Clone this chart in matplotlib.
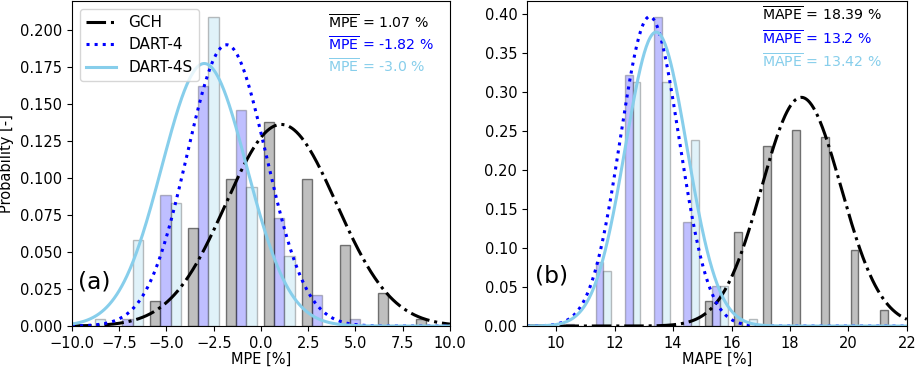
import numpy as np
import matplotlib
matplotlib.use("Agg")
import matplotlib.pyplot as plt

# ---------------- data ----------------
series_names = ["GCH", "DART-4", "DART-4S"]

# Panel (a): MPE histogram (density), bins of width ~2.01 starting at -10.08
mpe_bin_start = -10.08
mpe_bin_width = 2.01
mpe_gch = [0.0, 0.0, 0.0168, 0.0665, 0.0992, 0.138, 0.0992, 0.0549, 0.022, 0.005]
mpe_dart4 = [0.0, 0.005, 0.0887, 0.162, 0.146, 0.073, 0.0208, 0.005, 0.0, 0.0]
mpe_dart4s = [0.005, 0.058, 0.0833, 0.209, 0.094, 0.047, 0.0, 0.0, 0.0, 0.0]
mpe_means = [1.07, -1.82, -3.0]
mpe_stds = [2.93, 2.10, 2.25]

# Panel (b): MAPE histogram (density), bins of width 1.0 starting at 9.98
mape_bin_start = 9.98
mape_bin_width = 1.0
mape_gch = [0.0, 0.0, 0.0, 0.0, 0.0, 0.032, 0.120, 0.231, 0.252, 0.242, 0.098, 0.020]
mape_dart4 = [0.003, 0.082, 0.322, 0.396, 0.134, 0.051, 0.0, 0.0, 0.0, 0.0, 0.0, 0.0]
mape_dart4s = [0.0, 0.071, 0.3125, 0.3125, 0.239, 0.051, 0.0085, 0.0, 0.0, 0.0, 0.0, 0.0]
mape_means = [18.39, 13.2, 13.42]
mape_stds = [1.36, 1.005, 1.058]

# ---------------- style ----------------
plt.rcParams["font.family"] = ["DejaVu Sans"]
plt.rcParams["font.size"] = 10.5

bar_colors = ["gray", "blue", "skyblue"]
bar_alphas = [0.5, 0.25, 0.25]
line_colors = ["black", "blue", "skyblue"]
line_styles = ["-.", ":", "-"]
LW = 2.2


def normal_pdf(x, mu, sd):
    return np.exp(-0.5 * ((x - mu) / sd) ** 2) / (sd * np.sqrt(2 * np.pi))


def draw_panel(ax, start, width, heights_list, means, stds, xlim, label, tag,
               text_x, text_ys, tag_xy):
    nb = len(heights_list[0])
    edges = start + width * np.arange(nb)
    bw = width * 0.8 / 3
    for i, h in enumerate(heights_list):
        lefts = edges + width * 0.1 + i * bw
        ax.bar(lefts, h, width=bw, align="edge", color=bar_colors[i],
               alpha=bar_alphas[i], edgecolor="k", linewidth=1.0)
    x = np.linspace(xlim[0], xlim[1], 600)
    for i in range(3):
        ax.plot(x, normal_pdf(x, means[i], stds[i]), color=line_colors[i],
                linestyle=line_styles[i], linewidth=LW, label=series_names[i])
    ax.set_xlim(*xlim)
    ax.set_ylim(bottom=0)
    ax.set_xlabel(label, labelpad=1)
    for i in range(3):
        val = means[i]
        s = f"{val}"
        ax.text(text_x, text_ys[i],
                r"$\overline{\mathrm{%s}}$ = %s %%" % (label.split()[0], s),
                transform=ax.transAxes, color=line_colors[i],
                ha="left", va="center", fontsize=10.2)
    ax.text(tag_xy[0], tag_xy[1], tag, transform=ax.transAxes,
            fontsize=16.8, ha="left", va="center")


fig = plt.figure(figsize=(9.15, 3.68), dpi=100)
ax1 = fig.add_axes([0.0787, 0.114, 0.413, 0.883])
ax2 = fig.add_axes([0.576, 0.114, 0.415, 0.883])

draw_panel(ax1, mpe_bin_start, mpe_bin_width, [mpe_gch, mpe_dart4, mpe_dart4s],
           mpe_means, mpe_stds, (-10, 10), "MPE [%]", "(a)",
           0.677, [0.935, 0.868, 0.80], (0.015, 0.136))
draw_panel(ax2, mape_bin_start, mape_bin_width, [mape_gch, mape_dart4, mape_dart4s],
           mape_means, mape_stds, (9, 22), "MAPE [%]", "(b)",
           0.618, [0.96, 0.886, 0.815], (0.022, 0.154))

ax1.set_ylabel("Probability [-]")
ax1.legend(loc="upper left", fontsize=11)

fig.savefig("out.png", dpi=100)
